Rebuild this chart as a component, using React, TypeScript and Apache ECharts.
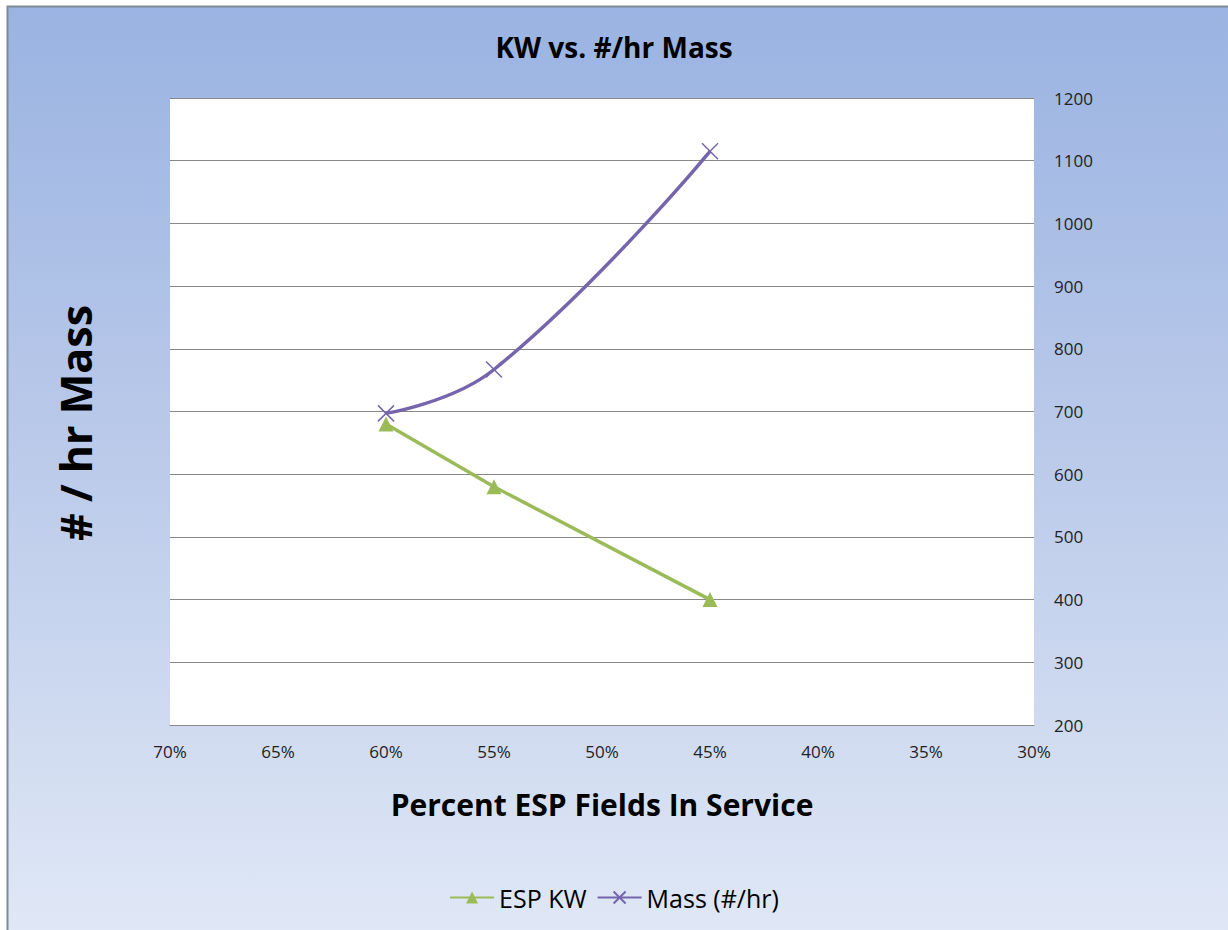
import React, { useEffect, useRef } from "react";
import * as echarts from "echarts";

const percentInService = [60, 55, 45];
const espKw = [680, 580, 400];
const massPerHr = [697, 767, 1115];
const xTicks = { min: 30, max: 70, interval: 5 };
const yTicks = { min: 200, max: 1200, interval: 100 };

const FONT = "'Open Sans', 'Noto Sans', sans-serif";

export default function App() {
  const ref = useRef<HTMLDivElement>(null);
  useEffect(() => {
    document.body.style.margin = "0";
    const chart = echarts.init(ref.current!, undefined, { renderer: "svg" });
    const green = "#9bbb59";
    const purple = "#7565ad";
    chart.setOption({
      animation: false,
      textStyle: { fontFamily: FONT },
      graphic: [
        {
          type: "rect",
          z: -100,
          silent: true,
          shape: { x: 7.5, y: 6.5, width: 1230, height: 930 },
          style: {
            fill: new echarts.graphic.LinearGradient(0, 0, 0, 1, [
              { offset: 0, color: "#9ab3e2" },
              { offset: 0.5, color: "#bccbea" },
              { offset: 1, color: "#e0e8f6" },
            ]),
            stroke: "#7f8a95",
            lineWidth: 2,
          },
        },
        {
          type: "text",
          x: 75,
          y: 423,
          rotation: Math.PI / 2,
          style: {
            text: "# / hr Mass",
            font: `bold 43px ${FONT}`,
            fill: "#000",
            textAlign: "center",
            textVerticalAlign: "middle",
          },
        },
      ],
      title: {
        text: "KW vs. #/hr Mass",
        left: "center",
        top: 28,
        textStyle: { fontSize: 28, fontWeight: "bold", color: "#000", fontFamily: FONT },
      },
      legend: {
        bottom: 15,
        left: "center",
        itemWidth: 44,
        itemHeight: 15,
        itemGap: 10,
        textStyle: { fontSize: 25, color: "#000", fontFamily: FONT },
        data: ["ESP KW", "Mass (#/hr)"],
      },
      grid: {
        left: 170,
        right: 194,
        top: 98,
        bottom: 205,
        show: true,
        backgroundColor: "#ffffff",
        borderWidth: 0,
      },
      xAxis: {
        type: "value",
        inverse: true,
        min: xTicks.min,
        max: xTicks.max,
        interval: xTicks.interval,
        name: "Percent ESP Fields In Service",
        nameLocation: "middle",
        nameGap: 64,
        nameTextStyle: { fontSize: 30, fontWeight: "bold", color: "#000", fontFamily: FONT },
        axisLine: { show: true, lineStyle: { color: "#888", width: 1 } },
        axisTick: { show: false },
        splitLine: { show: false },
        axisLabel: {
          formatter: (v: number) => `${v}%`,
          fontSize: 17,
          color: "#222",
          margin: 18,
        },
      },
      yAxis: {
        type: "value",
        position: "right",
        min: yTicks.min,
        max: yTicks.max,
        interval: yTicks.interval,
        axisLine: { show: false },
        axisTick: { show: false },
        splitLine: { show: true, lineStyle: { color: "#888", width: 1 } },
        axisLabel: {
          formatter: (v: number) => String(v),
          fontSize: 17,
          color: "#222",
          margin: 20,
        },
      },
      series: [
        {
          name: "ESP KW",
          type: "line",
          data: percentInService.map((x, i) => [x, espKw[i]]),
          symbol: "triangle",
          symbolSize: 15,
          lineStyle: { color: green, width: 3.5 },
          itemStyle: { color: green },
        },
        {
          name: "Mass (#/hr)",
          type: "line",
          smooth: 0.45,
          data: percentInService.map((x, i) => [x, massPerHr[i]]),
          symbol: "path://M0,0L10,10M10,0L0,10",
          symbolSize: 16,
          lineStyle: { color: purple, width: 3.5 },
          itemStyle: { color: "none", borderColor: purple, borderWidth: 1.5 },
        },
      ],
    });
    return () => chart.dispose();
  }, []);
  return (
    <div
      ref={ref}
      style={{ position: "absolute", left: 0, top: 0, width: 1228, height: 930 }}
    />
  );
}
